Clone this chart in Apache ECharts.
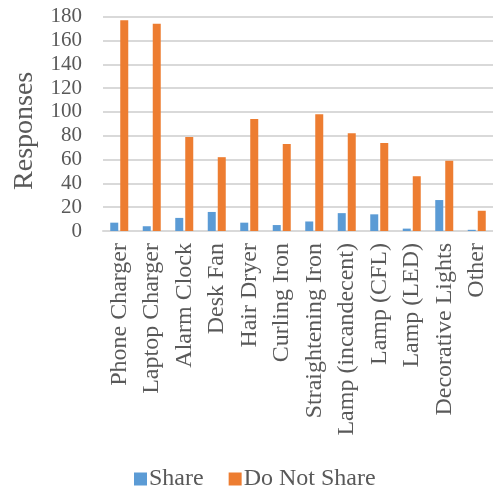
<!DOCTYPE html>
<html><head><meta charset="utf-8">
<script src="https://cdn.jsdelivr.net/npm/echarts@6/dist/echarts.min.js"></script>
<style>html,body{margin:0;padding:0;background:#fff}#c{width:493px;height:491px}</style>
</head><body><div id="c"></div>
<script>
const categories = ["Phone Charger","Laptop Charger","Alarm Clock","Desk Fan","Hair Dryer","Curling Iron","Straightening Iron","Lamp (incandecent)","Lamp (CFL)","Lamp (LED)","Decorative Lights","Other"];
const shareValues = [7,4,11,16,7,5,8,15,14,2,26,1];
const doNotShareValues = [177,174,79,62,94,73,98,82,74,46,59,17];
const yTicks = {min:0, max:180, interval:20};
const seriesNames = ["Share","Do Not Share"];
const font = "Liberation Serif";
const chart = echarts.init(document.getElementById('c'));
chart.setOption({
  animation:false,
  grid:{left:103,right:-6,top:16.7,bottom:260},
  legend:{top:462,left:129,itemWidth:13,itemHeight:13,itemGap:25,icon:'rect',
    textStyle:{fontFamily:font,fontSize:24,color:'#595959',padding:[0,0,0,-3]},data:seriesNames},
  xAxis:{type:'category',data:categories,
    axisLine:{lineStyle:{color:'#d9d9d9',width:2}},axisTick:{show:false},
    axisLabel:{rotate:90,interval:0,margin:12,fontFamily:font,fontSize:24,color:'#595959'}},
  yAxis:{type:'value',min:yTicks.min,max:yTicks.max,interval:yTicks.interval,
    name:'Responses',nameLocation:'middle',nameRotate:90,nameGap:64,
    nameTextStyle:{fontFamily:font,fontSize:28,color:'#595959',padding:[0,14,0,0]},
    axisLine:{show:false},axisTick:{show:false},
    splitLine:{lineStyle:{color:'#d9d9d9',width:2}},
    axisLabel:{margin:21,fontFamily:font,fontSize:21,color:'#595959'}},
  series:[
    {name:seriesNames[0],type:'bar',data:shareValues,barWidth:8,barGap:'25%',itemStyle:{color:'#5B9BD5'}},
    {name:seriesNames[1],type:'bar',data:doNotShareValues,barWidth:8,barGap:'25%',itemStyle:{color:'#ED7D31'}}
  ]
});
</script></body></html>
